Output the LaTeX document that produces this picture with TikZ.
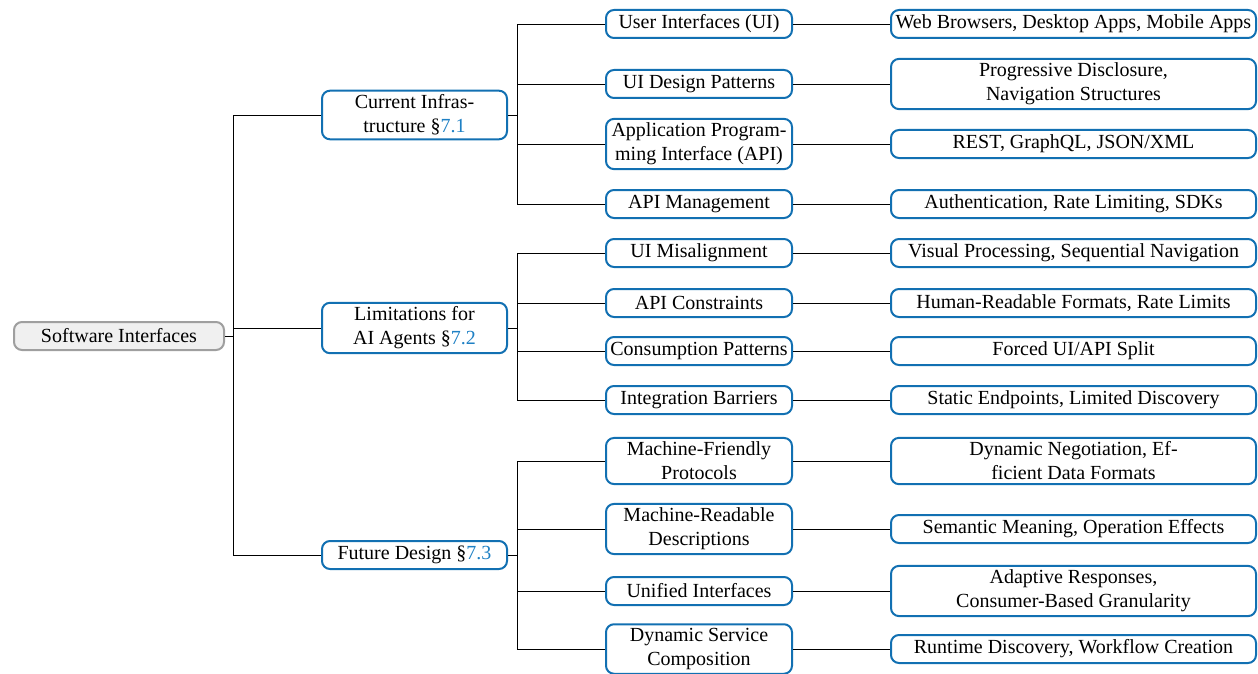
\documentclass[tikz,border=0pt]{standalone}
\usepackage{fontspec}
\setmainfont{Liberation Serif}
\usepackage{xcolor}
\usepackage{tikz}
\definecolor{boxblue}{RGB}{18,112,178}
\definecolor{linkblue}{RGB}{30,128,196}
\newcommand\secref[1]{\S\textcolor{linkblue}{#1}}
\tikzstyle{box}=[draw=boxblue,line width=1pt,rounded corners=4pt,align=center,inner xsep=2pt,inner ysep=2pt,minimum height=14pt,font=\normalsize]
\tikzstyle{rootbox}=[box,draw=gray!75,fill=gray!12,minimum width=105pt]
\tikzstyle{topic}=[box,minimum width=92.5pt]
\tikzstyle{sub}=[box,minimum width=93pt]
\tikzstyle{leafbox}=[box,minimum width=182.5pt]
\tikzstyle{branch}=[line width=.45pt,black]

\begin{document}
\begin{tikzpicture}[x=0.5pt,y=-0.5pt]
	\useasboundingbox (0,0) rectangle (1258,674);
	\node[rootbox] (root) at (119,336) {Software Interfaces};
	% first level
	\node[topic] (cur) at (414.5,115) {Current Infras-\\tructure \secref{7.1}};
	\node[topic] (lim) at (414.5,328) {Limitations for\\AI Agents \secref{7.2}};
	\node[topic] (fut) at (414.5,555) {Future Design \secref{7.3}};
	% second level
	\node[sub] (ui)   at (699,24)  {User Interfaces (UI)};
	\node[sub] (uid)  at (699,84)  {UI Design Patterns};
	\node[sub] (api)  at (699,144) {Application Program-\\ming Interface (API)};
	\node[sub] (apim) at (699,204) {API Management};
	\node[sub] (mis)  at (699,253) {UI Misalignment};
	\node[sub] (con)  at (699,303) {API Constraints};
	\node[sub] (cons) at (699,351) {Consumption Patterns};
	\node[sub] (bar)  at (699,400) {Integration Barriers};
	\node[sub] (mfp)  at (699,461) {Machine-Friendly\\Protocols};
	\node[sub] (mrd)  at (699,529) {Machine-Readable\\Descriptions};
	\node[sub] (uni)  at (699,591) {Unified Interfaces};
	\node[sub] (dsc)  at (699,649) {Dynamic Service\\Composition};
	% leaves
	\node[leafbox] (ui-l)   at (1073.5,24)  {Web Browsers, Desktop Apps, Mobile Apps};
	\node[leafbox] (uid-l)  at (1073.5,84)  {Progressive Disclosure,\\Navigation Structures};
	\node[leafbox] (api-l)  at (1073.5,144) {REST, GraphQL, JSON/XML};
	\node[leafbox] (apim-l) at (1073.5,204) {Authentication, Rate Limiting, SDKs};
	\node[leafbox] (mis-l)  at (1073.5,253) {Visual Processing, Sequential Navigation};
	\node[leafbox] (con-l)  at (1073.5,303) {Human-Readable Formats, Rate Limits};
	\node[leafbox] (cons-l) at (1073.5,351) {Forced UI/API Split};
	\node[leafbox] (bar-l)  at (1073.5,400) {Static Endpoints, Limited Discovery};
	\node[leafbox] (mfp-l)  at (1073.5,461) {Dynamic Negotiation, Ef-\\ficient Data Formats};
	\node[leafbox] (mrd-l)  at (1073.5,529) {Semantic Meaning, Operation Effects};
	\node[leafbox] (uni-l)  at (1073.5,591) {Adaptive Responses,\\Consumer-Based Granularity};
	\node[leafbox] (dsc-l)  at (1073.5,649) {Runtime Discovery, Workflow Creation};
	% connectors
	\foreach \t in {cur,lim,fut}
		\draw[branch] (root.east) -- ++(8,0) |- (\t.west);
	\foreach \s in {ui,uid,api,apim}
		\draw[branch] (cur.east) -- ++(9,0) |- (\s.west);
	\foreach \s in {mis,con,cons,bar}
		\draw[branch] (lim.east) -- ++(9,0) |- (\s.west);
	\foreach \s in {mfp,mrd,uni,dsc}
		\draw[branch] (fut.east) -- ++(9,0) |- (\s.west);
	\foreach \s in {ui,uid,api,apim,mis,con,cons,bar,mfp,mrd,uni,dsc}
		\draw[branch] (\s.east) -- (\s-l.west);
\end{tikzpicture}
\end{document}
